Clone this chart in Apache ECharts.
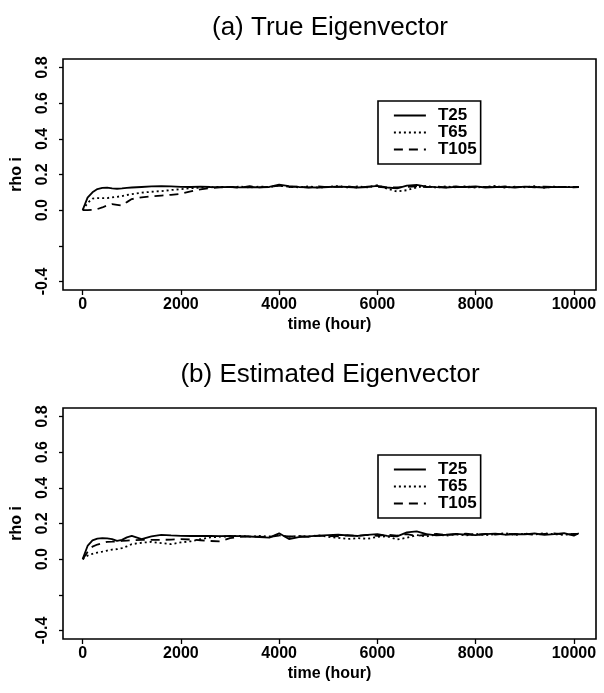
<!DOCTYPE html>
<html>
<head>
<meta charset="utf-8">
<script src="https://cdn.jsdelivr.net/npm/echarts@6/dist/echarts.min.js"></script>
<style>
  html, body { margin: 0; padding: 0; background: #fff; }
  #chart { width: 604px; height: 693px; }
</style>
</head>
<body>
<div id="chart"></div>
<script>
// Sampling times (hours) shared by every curve
const times = [0, 100, 200, 300, 400, 500, 600, 700, 800, 900, 1000,
  1200, 1400, 1600, 1800, 2000, 2200, 2400, 2600, 2800, 3000,
  3200, 3400, 3600, 3800, 4000, 4200, 4400, 4600, 4800, 5000,
  5200, 5400, 5600, 5800, 6000, 6200, 6400, 6600, 6800, 7000,
  7200, 7400, 7600, 7800, 8000, 8200, 8400, 8600, 8800, 9000,
  9200, 9400, 9600, 9800, 10000, 10100];

// (a) true eigenvector
const trueT25 = [0, .07, .10, .118, .125, .126, .122, .120, .122, .125, .127,
  .130, .133, .135, .133, .131, .130, .132, .130, .129, .130,
  .128, .130, .128, .130, .143, .135, .130, .128, .127, .130,
  .132, .130, .127, .130, .136, .127, .122, .138, .142, .132,
  .129, .127, .131, .130, .133, .127, .130, .131, .127, .132,
  .130, .127, .131, .129, .130, .131];
const trueT65 = [0, .04, .065, .068, .067, .068, .072, .075, .079, .085, .090,
  .098, .103, .107, .113, .118, .123, .126, .128, .131, .129,
  .132, .127, .133, .129, .138, .131, .128, .133, .126, .131,
  .135, .127, .133, .128, .140, .120, .105, .112, .128, .136,
  .126, .133, .128, .134, .127, .131, .136, .126, .132, .128,
  .134, .126, .132, .129, .131, .130];
const trueT105 = [0, 0, .002, .006, .015, .027, .034, .030, .026, .045, .062,
  .072, .078, .082, .086, .092, .105, .117, .124, .128, .130,
  .126, .134, .128, .131, .137, .129, .132, .126, .133, .129,
  .131, .134, .126, .132, .131, .126, .128, .131, .134, .129,
  .132, .128, .133, .127, .131, .130, .128, .133, .129, .131,
  .128, .132, .129, .131, .128, .129];

// (b) estimated eigenvector
const estT25 = [0, .074, .105, .115, .118, .116, .112, .102, .108, .122, .130,
  .112, .128, .136, .133, .131, .130, .131, .130, .129, .130,
  .129, .127, .124, .121, .145, .113, .123, .128, .132, .135,
  .137, .133, .130, .136, .140, .131, .128, .150, .156, .140,
  .133, .137, .142, .138, .135, .140, .143, .137, .141, .139,
  .144, .136, .140, .146, .132, .145];
const estT65 = [0, .02, .03, .037, .042, .048, .054, .056, .062, .072, .084,
  .092, .097, .090, .084, .094, .100, .112, .122, .126, .128,
  .131, .126, .130, .127, .134, .125, .130, .127, .133, .125,
  .120, .113, .118, .114, .125, .128, .110, .120, .135, .128,
  .138, .132, .140, .133, .142, .135, .140, .146, .136, .143,
  .138, .145, .140, .136, .142, .140];
const estT105 = [0, .04, .07, .082, .090, .097, .098, .100, .102, .104, .106,
  .108, .108, .108, .110, .112, .110, .106, .102, .100, .118,
  .125, .128, .126, .124, .132, .127, .129, .125, .131, .130,
  .128, .134, .131, .136, .130, .138, .132, .141, .130, .137,
  .142, .135, .139, .143, .137, .141, .138, .143, .139, .142,
  .137, .141, .145, .138, .141, .142];

const seriesNames = ['T25', 'T65', 'T105'];
const panelTitles = ['(a) True Eigenvector', '(b) Estimated Eigenvector'];
const xTicks = [0, 2000, 4000, 6000, 8000, 10000];
const yTicks = [-0.4, -0.2, 0, 0.2, 0.4, 0.6, 0.8];
const yLabelTicks = [-0.4, 0, 0.2, 0.4, 0.6, 0.8];

const panels = [[trueT25, trueT65, trueT105], [estT25, estT65, estT105]];
const dashes = ['solid', [2, 3], [9, 6]];

const FONT = '"Liberation Sans", Arial, Helvetica, sans-serif';
const gridTops = [59, 408];
const gridH = 231;

const chart = echarts.init(document.getElementById('chart'), null, { renderer: 'canvas' });

const grids = gridTops.map(top => ({
  left: 63, right: 8, top: top, height: gridH,
  show: true, borderColor: '#000', borderWidth: 1.6, backgroundColor: 'transparent'
}));

const xAxes = gridTops.map((_, i) => ({
  type: 'value', gridIndex: i, min: -400, max: 10450,
  name: 'time (hour)', nameLocation: 'middle', nameGap: 27,
  nameTextStyle: { fontFamily: FONT, fontWeight: 'bold', fontSize: 16, color: '#000' },
  axisLine: { show: false, onZero: false },
  splitLine: { show: false },
  axisTick: { show: true, inside: false, length: 5, customValues: xTicks,
    lineStyle: { color: '#000', width: 1.3 } },
  axisLabel: { customValues: xTicks, margin: 7, color: '#000',
    fontFamily: FONT, fontWeight: 'bold', fontSize: 16,
    formatter: v => String(v) }
}));

const yAxes = gridTops.map((_, i) => ({
  type: 'value', gridIndex: i, min: -0.448, max: 0.848,
  name: 'rho i', nameLocation: 'middle', nameGap: 38, nameRotate: 90,
  nameTextStyle: { fontFamily: FONT, fontWeight: 'bold', fontSize: 16, color: '#000' },
  axisLine: { show: false, onZero: false },
  splitLine: { show: false },
  axisTick: { show: true, inside: false, length: 4, customValues: yTicks,
    lineStyle: { color: '#000', width: 1.3 } },
  axisLabel: { customValues: yLabelTicks, rotate: 90, margin: 12, color: '#000',
    fontFamily: FONT, fontWeight: 'bold', fontSize: 16,
    formatter: v => v.toFixed(1) }
}));

const series = [];
panels.forEach((curves, p) => {
  curves.forEach((vals, k) => {
    series.push({
      type: 'line', name: seriesNames[k], xAxisIndex: p, yAxisIndex: p,
      data: times.map((t, j) => [t, vals[j]]),
      showSymbol: false, symbol: 'none', smooth: false, animation: false,
      color: '#000',
      itemStyle: { color: '#000' },
      lineStyle: { color: '#000', width: 1.8, type: dashes[k] }
    });
  });
});

const legendTops = [101, 455];
const legends = legendTops.map(top => ({
  data: seriesNames,
  orient: 'vertical', left: 378, top: top,
  selectedMode: false, itemGap: 0, itemWidth: 32, itemHeight: 14,
  padding: [6, 4, 6, 15],
  borderColor: '#000', borderWidth: 1.6, backgroundColor: '#fff',
  itemStyle: { opacity: 0 },
  lineStyle: { opacity: 1, width: 1.8 },
  textStyle: { fontFamily: FONT, fontWeight: 'bold', fontSize: 17, color: '#000',
    lineHeight: 14, padding: [0, 0, 0, 7] }
}));

const titleY = [28, 375];
const graphics = panelTitles.map((txt, i) => ({
  type: 'text', x: 330, y: titleY[i],
  style: { text: txt, fill: '#000', font: 'normal 26px ' + FONT,
    textAlign: 'center', textVerticalAlign: 'middle' }
}));

chart.setOption({
  animation: false,
  backgroundColor: '#fff',
  grid: grids,
  xAxis: xAxes,
  yAxis: yAxes,
  legend: legends,
  graphic: graphics,
  series: series
});
</script>
</body>
</html>
